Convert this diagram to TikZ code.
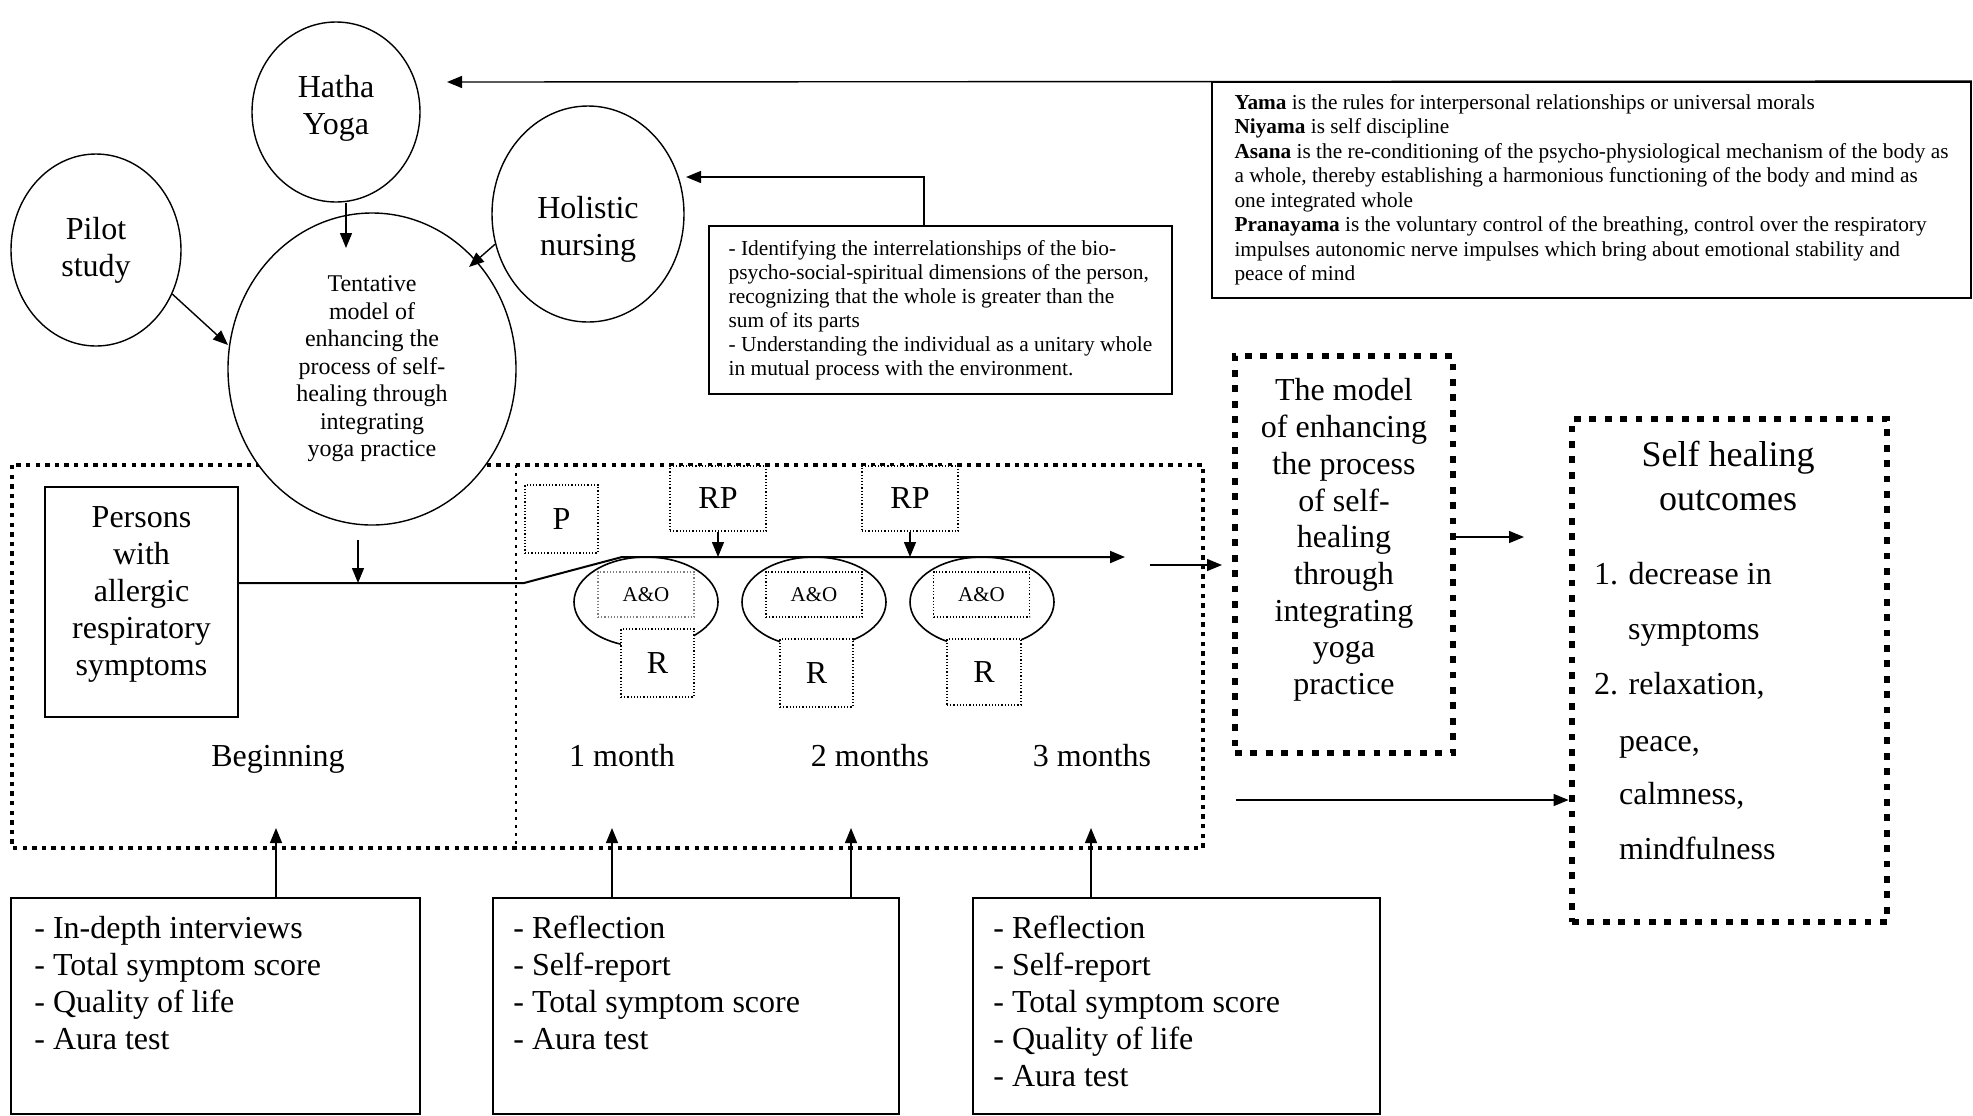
\documentclass[tikz,border=0pt]{standalone}
\usepackage{fontspec}
\setmainfont{Liberation Serif}
\usetikzlibrary{shapes.geometric, arrows.meta}
\begin{document}
\begin{tikzpicture}[x=0.5pt, y=-0.5pt,
  oval/.style={ellipse, draw, line width=0.7pt, inner sep=0pt, fill=white, align=center},
  big/.style={font=\fontsize{16}{18.5}\selectfont},
  arr/.style={line width=0.7pt, -{Triangle[length=7.5pt,width=6pt]}},
  fbox/.style={draw, densely dotted, line width=0.6pt, fill=white, inner sep=0pt},
  solidbox/.style={draw, line width=0.9pt, inner sep=0pt},
  outerdots/.style={line width=2.1pt, dash pattern=on 2.2pt off 2.6pt},
  heavydots/.style={draw, line width=3.4pt, dash pattern=on 3.4pt off 4.3pt, inner sep=0pt},
  thindots/.style={line width=1.4pt, dash pattern=on 1.4pt off 2.6pt},
]
\useasboundingbox (0,0) rectangle (1973,1115);

% big dotted frame
\draw[outerdots] (12,465) rectangle (1203,848);
\draw[thindots] (516,465) -- (516,848);

% ellipses
\node[oval, minimum width=84pt, minimum height=90pt] (hatha) at (336,112) {};
\node[big, align=center] (hathat) at (336,108) {Hatha\\Yoga};
\node[oval, big, minimum width=85pt, minimum height=96pt] (pilot) at (96,250) {Pilot\\study};
\node[oval, minimum width=96pt, minimum height=108pt] (holistic) at (588,214) {};
\node[big, align=center] (holistict) at (588,229) {Holistic\\nursing};
\node[oval, minimum width=144pt, minimum height=156pt, font=\fontsize{12}{13.75}\selectfont] (tent) at (372,369) {Tentative\\model of\\enhancing the\\process of self-\\healing through\\integrating\\yoga practice};

\coordinate (hy1) at (346,248);
\draw[arr] (hatha.south -| hy1) -- (hy1);
\coordinate (ps1) at (228,345);
\draw[arr] (pilot.-30) -- (ps1);
\coordinate (ht) at (469,267);
\draw[arr] (holistic.198) -- (ht);

% text boxes top
\node[solidbox, align=left, minimum width=231.5pt, minimum height=84pt, font=\fontsize{10.7}{12}\selectfont] (ident) at (940.5,310) {- Identifying the interrelationships of the bio-\\psycho-social-spiritual dimensions of the person,\\recognizing that the whole is greater than the\\sum of its parts\\- Understanding the individual as a unitary whole\\in mutual process with the environment.};
\coordinate (hn) at (686,177);
\draw[arr] ([xshift=-8.25pt]ident.north) |- (hn);

\node[solidbox, align=left, minimum width=379.5pt, minimum height=108pt, font=\fontsize{10.65}{12.25}\selectfont] (yama) at (1591.5,190) {\textbf{Yama} is the rules for interpersonal relationships or universal morals\\\textbf{Niyama} is self discipline\\\textbf{Asana} is the re-conditioning of the psycho-physiological mechanism of the body as\\a whole, thereby establishing a harmonious functioning of the body and mind as\\one integrated whole\\\textbf{Pranayama} is the voluntary control of the breathing, control over the respiratory\\impulses autonomic nerve impulses which bring about emotional stability and\\peace of mind};
\coordinate (hatip) at (447,82);
\draw[arr] (yama.north east) -- (hatip);

% persons
\node[solidbox, minimum width=96.5pt, minimum height=115pt] (persons) at (141.5,602) {};
\node[big, align=center] (personst) at (141.5,594) {Persons\\with\\allergic\\respiratory\\symptoms};

% P and RP
\node[fbox, big, minimum width=36.5pt, minimum height=34pt] (p) at (561.5,519) {P};
\node[fbox, big, minimum width=48pt, minimum height=32.5pt] (rp1) at (718,498.5) {RP};
\node[fbox, big, minimum width=48pt, minimum height=32.5pt] (rp2) at (910,498.5) {RP};

% loops
\node[ellipse, draw, line width=0.8pt, minimum width=72pt, minimum height=45pt] (loop1) at (646,602) {};
\node[ellipse, draw, line width=0.8pt, minimum width=72pt, minimum height=45pt] (loop2) at (814,602) {};
\node[ellipse, draw, line width=0.8pt, minimum width=72pt, minimum height=45pt] (loop3) at (982,602) {};

% timeline
\coordinate (j1) at (524,583);
\coordinate (j2) at (622,557);
\coordinate (tl) at (1125,557);
\draw[arr, line width=1pt] (persons.east |- j1) -- (j1) -- (j2) -- (tl);
\coordinate (d0) at (358,540);
\coordinate (d1) at (358,583);
\draw[arr] (d0) -- (d1);
\draw[arr] (rp1.south) -- (rp1.south |- tl);
\draw[arr] (rp2.south) -- (rp2.south |- tl);

% A&O and R
\node[fbox, draw=gray, minimum width=48pt, minimum height=22.5pt, font=\fontsize{10.5}{12}\selectfont] (ao1) at (646,594.5) {A\&O};
\node[fbox, minimum width=48pt, minimum height=22.5pt, font=\fontsize{10.5}{12}\selectfont] (ao2) at (814,594.5) {A\&O};
\node[fbox, minimum width=48pt, minimum height=22.5pt, font=\fontsize{10.5}{12}\selectfont] (ao3) at (981.5,594.5) {A\&O};
\node[fbox, big, minimum width=36.5pt, minimum height=34pt] (r1) at (657.5,663) {R};
\node[fbox, big, minimum width=36.5pt, minimum height=34pt] (r2) at (816.5,673) {R};
\node[fbox, big, minimum width=37pt, minimum height=33pt] (r3) at (984,672) {R};

% time labels
\node[big, anchor=mid] (lbeg) at (278,762) {Beginning};
\node[big, anchor=mid] (lm1) at (622,762) {1 month};
\node[big, anchor=mid] (lm2) at (870,762) {2 months};
\node[big, anchor=mid] (lm3) at (1092,762) {3 months};

% model box
\coordinate (m0) at (1150,565);
\coordinate (m1) at (1222,565);
\draw[arr] (m0) -- (m1);
\node[heavydots, minimum width=109pt, minimum height=198.5pt] (model) at (1344,554.5) {};
\node[align=center, font=\fontsize{16}{18.35}\selectfont] (modelt) at (1344,540) {The model\\of enhancing\\the process\\of self-\\healing\\through\\integrating\\yoga\\practice};

% outcomes
\node[heavydots, minimum width=157.5pt, minimum height=251.5pt] (outc) at (1729.5,670.5) {};
\node[align=center, font=\fontsize{18}{22}\selectfont] (outct) at (1728,476) {Self healing\\outcomes};
\node[big, anchor=mid west] (o1t) at (1587,580) {1. decrease in};
\node[big, anchor=mid west] (o2t) at (1621,635) {symptoms};
\node[big, anchor=mid west] (o3t) at (1587,690) {2. relaxation,};
\node[big, anchor=mid west] (o4t) at (1612,747) {peace,};
\node[big, anchor=mid west] (o5t) at (1612,800) {calmness,};
\node[big, anchor=mid west] (o6t) at (1612,855) {mindfulness};
\coordinate (o1) at (1524,537);
\draw[arr] (model.east |- o1) -- (o1);
\coordinate (q0) at (1236,800);
\draw[arr] (q0) -- (outc.west |- q0);

% bottom boxes
\node[solidbox, minimum width=204.5pt, minimum height=108pt] (b1) at (215.5,1006) {};
\node[solidbox, minimum width=203pt, minimum height=108pt] (b2) at (696,1006) {};
\node[solidbox, minimum width=203.5pt, minimum height=108pt] (b3) at (1176.5,1006) {};
\node[big, align=left, anchor=north west, inner sep=0pt] (b1t) at (34,916) {- In-depth interviews\\- Total symptom score\\- Quality of life\\- Aura test};
\node[big, align=left, anchor=north west, inner sep=0pt] (b2t) at (513,916) {- Reflection\\- Self-report\\- Total symptom score\\- Aura test};
\node[big, align=left, anchor=north west, inner sep=0pt] (b3t) at (993,916) {- Reflection\\- Self-report\\- Total symptom score\\- Quality of life\\- Aura test};
\coordinate (u0) at (276,828);
\coordinate (u1) at (612,828);
\coordinate (u2) at (851,828);
\coordinate (u3) at (1091,828);
\draw[arr] (b1.north -| u0) -- (u0);
\draw[arr] (b2.north -| u1) -- (u1);
\draw[arr] (b2.north -| u2) -- (u2);
\draw[arr] (b3.north -| u3) -- (u3);
\end{tikzpicture}
\end{document}
